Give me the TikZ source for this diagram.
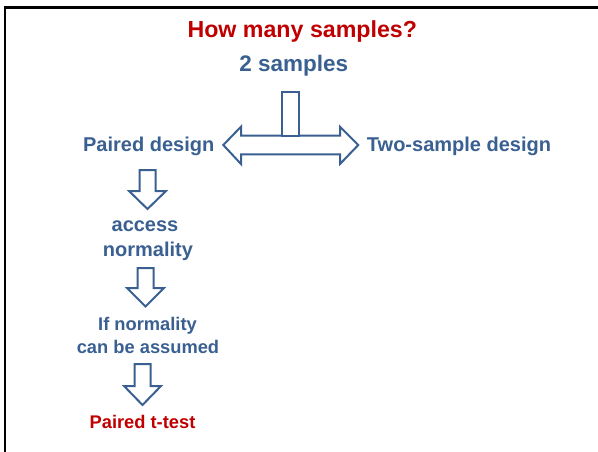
\documentclass[tikz,border=0pt]{standalone}
\usepackage{fontspec}
\setmainfont{Liberation Sans}
\definecolor{txtblue}{RGB}{58,96,145}
\definecolor{txtred}{RGB}{192,0,0}
\newcommand{\dnarrow}[4]{% cx, top, base, tip
  \draw[blockarrow] ({#1-8},#2) -- ({#1+8},#2) -- ({#1+8},#3) -- ({#1+18.5},#3)
    -- (#1,#4) -- ({#1-18.5},#3) -- ({#1-8},#3) -- cycle;}
\begin{document}
\begin{tikzpicture}[x=1pt,y=-1pt,
  lbl/.style={inner sep=0pt,anchor=base,font=\bfseries\fontsize{20}{24}\selectfont,text=txtblue},
  lblsmall/.style={lbl,font=\bfseries\fontsize{18.3}{22}\selectfont},
  blockarrow/.style={draw=txtblue,line width=2pt,line join=miter,fill=white},
  frameline/.style={draw=black,line width=2.6pt}]
\useasboundingbox (0,0) rectangle (598,452);
\fill[white] (0,0) rectangle (598,452);
\draw[frameline] (5,453) -- (5,7.6) -- (599,7.6);

\node[lbl,text=txtred,font=\bfseries\fontsize{23.2}{28}\selectfont] (title) at (302.3,37.3) {How many samples?};
\node[lbl,font=\bfseries\fontsize{22.5}{27}\selectfont] (two) at (293.8,71.7) {2 samples};
\node[lbl] (paired) at (148.7,151.7) {Paired design};
\node[lbl] (twosample) at (459,151.7) {Two-sample design};
\node[lbl] (access) at (145,231.7) {access};
\node[lbl] (normality) at (148,256.7) {normality};
\node[lblsmall] (ifnorm) at (147.5,330) {If normality};
\node[lblsmall] (assumed) at (148,353) {can be assumed};
\node[lblsmall,text=txtred] (ttest) at (142.5,428) {Paired t-test};

% T-shaped double arrow
\draw[blockarrow] (223.3,145) -- (241,126.7) -- (241,135.7) -- (340,135.7) -- (340,126.7)
  -- (358.3,145) -- (340,164) -- (340,154.3) -- (241,154.3) -- (241,164) -- cycle;
\draw[blockarrow] (281.7,92.3) rectangle (299,135.7);

% down arrows
\dnarrow{147.5}{170}{191}{209}
\dnarrow{145.5}{268}{288}{306.5}
\dnarrow{142.5}{364}{386}{405}
\end{tikzpicture}
\end{document}
